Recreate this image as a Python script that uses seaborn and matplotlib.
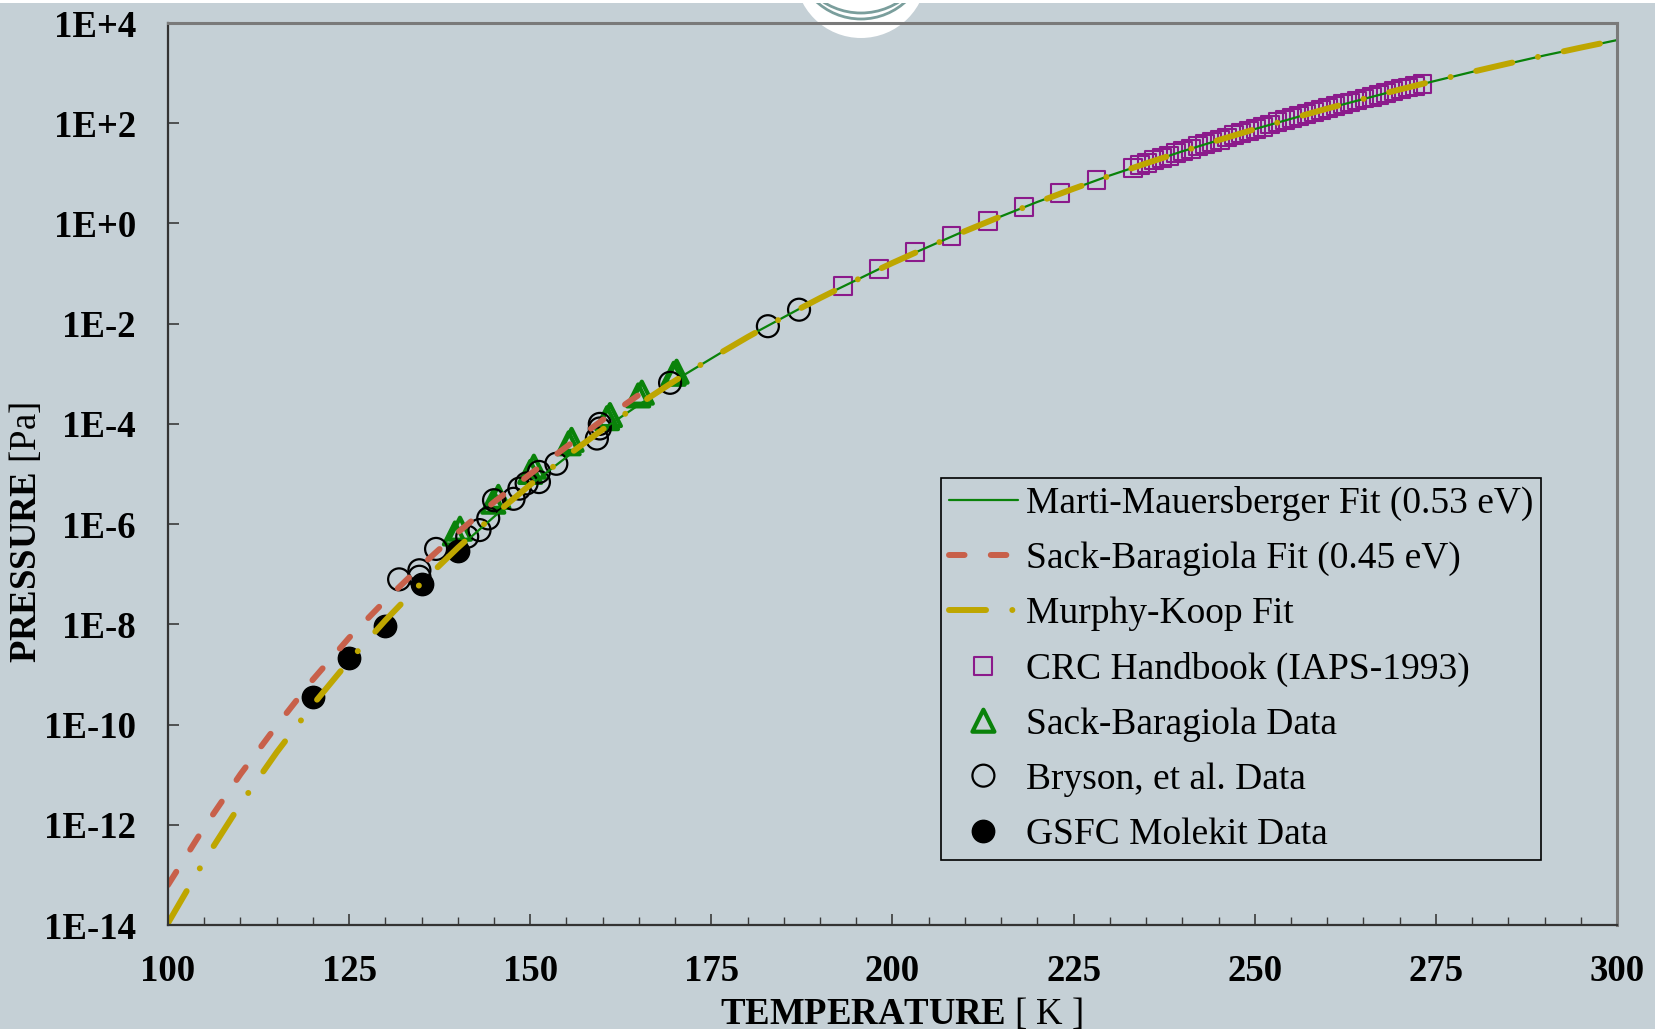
import matplotlib
matplotlib.use("Agg")
import matplotlib.pyplot as plt
from matplotlib.patches import Circle, Rectangle
from matplotlib.transforms import IdentityTransform
from matplotlib.ticker import MultipleLocator, NullLocator
import seaborn as sns

# ---------------- data ----------------
# Marti-Mauersberger fit (0.53 eV), temperature [K] and pressure [Pa]
mm_T = [140, 150, 160, 170, 180, 190, 200, 210, 220, 230, 240, 250, 260, 270, 280, 290, 300]
mm_P = [3.25e-7, 6.03e-6, 7.76e-5, 7.40e-4, 5.50e-3, 3.30e-2, 0.166, 0.715, 2.69, 9.06,
        27.5, 76.4, 196, 470, 1057, 2254, 4560]

# Sack-Baragiola fit (0.45 eV)
sbfit_T = [100, 105, 110, 115, 120, 125, 130, 135, 140, 145, 150, 155, 160, 165]
sbfit_P = [6.3e-14, 8.9e-13, 1.02e-11, 9.5e-11, 7.9e-10, 5.4e-9, 3.0e-8, 1.5e-7,
           6.8e-7, 2.75e-6, 1.0e-5, 3.5e-5, 1.2e-4, 3.8e-4]

# Murphy-Koop fit
mk_T = [100, 105, 110, 115, 120, 125, 130, 135, 140, 145, 150, 155, 160, 165, 170,
        175, 180, 185, 190, 195, 200, 205, 210, 215, 220, 225, 230, 235, 240, 245,
        250, 255, 260, 265, 270, 275, 280, 285, 290, 295, 300]
mk_P = [1.09e-14, 1.91e-13, 2.58e-12, 2.79e-11, 2.49e-10, 1.87e-9, 1.20e-8, 6.76e-8,
        3.37e-7, 1.51e-6, 6.11e-6, 2.26e-5, 7.74e-5, 2.46e-4, 7.31e-4, 2.04e-3,
        5.40e-3, 1.36e-2, 3.24e-2, 7.41e-2, 0.163, 0.344, 0.701, 1.39, 2.65, 4.94,
        8.95, 15.8, 27.3, 46.0, 76.0, 123, 196, 306, 470, 711, 1059, 1556, 2254,
        3228, 4560]

# CRC Handbook (IAPS-1993)
crc_T = [193.15, 198.15, 203.15, 208.15, 213.15, 218.15, 223.15, 228.15,
         233.15, 234.15, 235.15, 236.15, 237.15, 238.15, 239.15, 240.15, 241.15,
         242.15, 243.15, 244.15, 245.15, 246.15, 247.15, 248.15, 249.15, 250.15,
         251.15, 252.15, 253.15, 254.15, 255.15, 256.15, 257.15, 258.15, 259.15,
         260.15, 261.15, 262.15, 263.15, 264.15, 265.15, 266.15, 267.15, 268.15,
         269.15, 270.15, 271.15, 272.15, 273.15]
crc_P = [0.0558, 0.1245, 0.2667, 0.551, 1.099, 2.125, 3.99, 7.29,
         12.97, 14.52, 16.22, 18.11, 20.23, 22.54, 25.12, 27.93, 31.05,
         34.51, 38.28, 42.46, 46.99, 52.00, 57.54, 63.68, 70.31, 77.45,
         85.51, 94.19, 103.8, 114.0, 125.3, 137.7, 151.0, 165.6, 181.6,
         199.1, 217.8, 238.2, 260.0, 284.4, 310.5, 338.8, 369.0, 401.8,
         437.5, 476.4, 517.6, 562.3, 611.1]

# Sack-Baragiola data
sb_T = [139.6, 140.3, 144.9, 145.6, 150.0, 150.5, 155.3, 155.7, 160.6, 161.0,
        164.9, 165.4, 169.8, 170.2]
sb_P = [6.5e-7, 8.1e-7, 2.8e-6, 3.5e-6, 1.1e-5, 1.4e-5, 4.1e-5, 4.8e-5,
        1.3e-4, 1.5e-4, 3.7e-4, 4.2e-4, 1.0e-3, 1.1e-3]

# Bryson, et al. data
bry_T = [131.9, 134.7, 134.7, 137.0, 141.3, 143.0, 144.2, 145.0, 147.7, 148.5,
         149.5, 151.2, 151.2, 153.6, 159.2, 159.6, 159.6, 169.3, 182.8, 187.1]
bry_P = [7.9e-8, 1.2e-7, 8.9e-8, 3.2e-7, 5.6e-7, 7.6e-7, 1.3e-6, 3.0e-6, 3.2e-6,
         5.1e-6, 6.5e-6, 6.9e-6, 1.1e-5, 1.6e-5, 5.1e-5, 8.1e-5, 1.0e-4, 6.6e-4,
         8.9e-3, 1.9e-2]

# GSFC Molekit data
gsfc_T = [120, 125, 130, 135, 140]
gsfc_P = [3.5e-10, 2.1e-9, 9.1e-9, 6.3e-8, 2.95e-7]

x_ticks = [100, 125, 150, 175, 200, 225, 250, 275, 300]
y_ticks = [1e-14, 1e-12, 1e-10, 1e-8, 1e-6, 1e-4, 1e-2, 1e0, 1e2, 1e4]
y_tick_labels = ["1E-14", "1E-12", "1E-10", "1E-8", "1E-6", "1E-4", "1E-2",
                 "1E+0", "1E+2", "1E+4"]

# ---------------- style ----------------
sns.set_theme(style="ticks")
plt.rcParams["font.family"] = ["Liberation Serif", "DejaVu Serif"]
plt.rcParams["mathtext.fontset"] = "custom"
plt.rcParams["mathtext.rm"] = "Liberation Serif"
plt.rcParams["mathtext.bf"] = "Liberation Serif:bold"
plt.rcParams["text.color"] = "black"

BG = "#C5D0D6"
GREEN = "#0A820A"
RED = "#C8604A"
YELLOW = "#BEA600"
PURPLE = "#8B1A8B"
FS = 26.5
LEG_FS = 27

W, H = 1656, 1029
fig = plt.figure(figsize=(W / 100, H / 100), dpi=100, facecolor=BG)
ax = fig.add_axes([168 / W, (H - 925) / H, 1449 / W, 902 / H])
ax.set_facecolor(BG)
ax.set_yscale("log")

# fitted curves
sns.lineplot(x=mm_T, y=mm_P, ax=ax, color=GREEN, lw=1.6,
             label="Marti-Mauersberger Fit (0.53 eV)")
sns.lineplot(x=sbfit_T, y=sbfit_P, ax=ax, color=RED, lw=4.3,
             linestyle=(0, (2.6, 4.4)), dash_capstyle="round",
             label="Sack-Baragiola Fit (0.45 eV)")
sns.lineplot(x=mk_T, y=mk_P, ax=ax, color=YELLOW, lw=4.3,
             linestyle=(0, (6.2, 4.4, 0.01, 4.4)), dash_capstyle="round",
             label="Murphy-Koop Fit")

# measured / tabulated points
sns.scatterplot(x=crc_T, y=crc_P, ax=ax, marker="s", s=165, facecolor="none",
                edgecolor=PURPLE, linewidth=1.5, label="CRC Handbook (IAPS-1993)")
sns.scatterplot(x=sb_T, y=sb_P, ax=ax, marker="^", s=250, facecolor="none",
                edgecolor=GREEN, linewidth=3.0, label="Sack-Baragiola Data")
sns.scatterplot(x=bry_T, y=bry_P, ax=ax, marker="o", s=250, facecolor="none",
                edgecolor="black", linewidth=1.6, label="Bryson, et al. Data")
sns.scatterplot(x=gsfc_T, y=gsfc_P, ax=ax, marker="o", s=260, facecolor="black",
                edgecolor="black", linewidth=1.0, label="GSFC Molekit Data")

ax.set_xlim(100, 300)
ax.set_ylim(1e-14, 1e4)

# ticks
ax.set_xticks(x_ticks, labels=[str(t) for t in x_ticks])
ax.xaxis.set_minor_locator(MultipleLocator(5))
ax.set_yticks(y_ticks, labels=y_tick_labels)
ax.yaxis.set_minor_locator(NullLocator())
ax.tick_params(axis="both", which="major", direction="in", length=8, width=1.2,
               color="#3a3a3a", labelcolor="black", labelsize=FS)
ax.tick_params(axis="x", which="minor", direction="in", length=5.5, width=1.0,
               color="#3a3a3a")
ax.tick_params(axis="x", which="major", pad=21)
ax.tick_params(axis="y", which="major", pad=23)
for lbl in ax.get_xticklabels() + ax.get_yticklabels():
    lbl.set_fontweight("bold")

for side in ("left", "bottom"):
    ax.spines[side].set_color("#333333")
    ax.spines[side].set_linewidth(1.6)
for side in ("top", "right"):
    ax.spines[side].set_color("#7a7a7a")
    ax.spines[side].set_linewidth(2.2)

ax.set_xlabel(r"$\mathbf{TEMPERATURE}$ [ K ]", fontsize=FS, color="black")
ax.xaxis.set_label_coords(0.506, -0.079)
ax.set_ylabel(r"$\mathbf{PRESSURE}$ [Pa]", fontsize=FS, color="black")
ax.yaxis.set_label_coords(-0.0856, 0.435)

leg = ax.legend(loc="upper left", bbox_to_anchor=(0.5335, 0.4956), borderaxespad=0,
                prop={"family": "Liberation Serif", "size": LEG_FS},
                handlelength=1.82, handletextpad=0.22, borderpad=0.22,
                labelspacing=0.545, scatterpoints=1, scatteryoffsets=[0.5],
                fancybox=False, framealpha=1, facecolor=BG, edgecolor="black",
                labelcolor="black")
leg.get_frame().set_linewidth(1.2)

# badge at the top edge
ax.add_artist(Circle((861, H + 28), 66, transform=IdentityTransform(),
                     facecolor="white", edgecolor="none", clip_on=False, zorder=0.5))
ax.add_artist(Circle((861, H + 47), 66, transform=IdentityTransform(), fill=False,
                     edgecolor="#7A9E9C", lw=2.0, clip_on=False, zorder=0.6))
ax.add_artist(Circle((861, H + 57), 70, transform=IdentityTransform(), fill=False,
                     edgecolor="#7A9E9C", lw=2.0, clip_on=False, zorder=0.6))
fig.add_artist(Rectangle((0, 1 - 3 / H), 1, 3 / H, transform=fig.transFigure,
                         facecolor="white", edgecolor="none", zorder=3))

fig.savefig("out.png", dpi=100, facecolor=BG)
